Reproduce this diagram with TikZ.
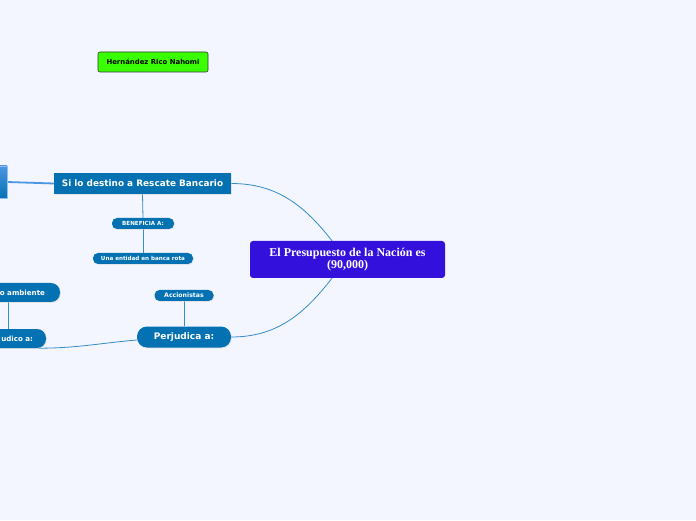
\documentclass[tikz,border=0pt]{standalone}
\usepackage{fontspec}
\setmainfont{Liberation Serif}
\setsansfont{DejaVu Sans}
\usetikzlibrary{shadows}

\definecolor{pagebg}{RGB}{243,246,254}
\definecolor{topicblue}{RGB}{4,114,178}
\definecolor{rootviolet}{RGB}{52,16,220}
\definecolor{namegreen}{RGB}{58,255,0}
\definecolor{linkblue}{RGB}{52,140,200}
\definecolor{sideblue}{RGB}{74,150,226}

\pgfdeclarelayer{back}
\pgfdeclarelayer{links}
\pgfsetlayers{back,links,main}

\begin{document}
\begin{tikzpicture}[
    x=1pt, y=1pt,
    topic/.style={
        rectangle, fill=topicblue, text=white, inner sep=0pt,
        font=\sffamily\bfseries\fontsize{8.9}{10}\selectfont,
        drop shadow={shadow xshift=0.8pt, shadow yshift=-0.8pt, fill=gray!35}
    },
    pill/.style={
        topic, rounded corners=5pt, minimum height=11pt,
        font=\sffamily\bfseries\fontsize{5.6}{6.5}\selectfont
    },
    bigpill/.style={
        topic, rounded corners=9pt, minimum height=19pt,
        font=\sffamily\bfseries\fontsize{7.1}{8}\selectfont
    },
    link/.style={draw=linkblue, line width=0.8pt}
]
    \useasboundingbox (0,0) rectangle (696,520);

    % nodes
    \node[rectangle, rounded corners=2pt, fill=namegreen, draw=black!80, line width=0.6pt,
          minimum width=110pt, minimum height=20pt, inner sep=0pt,
          font=\sffamily\bfseries\fontsize{6.9}{8}\selectfont] (autor) at (153,458) {Hernández Rico Nahomi};

    \node[rectangle, top color=sideblue, bottom color=topicblue, draw=sideblue!60,
          minimum width=34pt, minimum height=32pt, inner sep=0pt] (lado) at (-10,338) {};

    \node[topic, minimum width=177pt, minimum height=21pt] (rescate) at (142.5,336.5) {Si lo destino a Rescate Bancario};
    \node[pill, minimum width=62pt] (beneficia) at (143,296.5) {BENEFICIA A:};
    \node[pill, minimum width=100pt] (entidad) at (143,261.5) {Una entidad en banca rota};

    \node[rectangle, rounded corners=3pt, fill=rootviolet, text=white, inner sep=0pt,
          minimum width=195pt, minimum height=37pt, align=center,
          font=\bfseries\fontsize{12}{12.5}\selectfont] (presupuesto) at (347.5,260.5)
          {El Presupuesto de la Nación es\\(90,000)};

    \node[pill, minimum width=59pt, font=\sffamily\bfseries\fontsize{6.2}{7}\selectfont] (accionistas) at (184,224.5) {Accionistas};
    \node[bigpill, minimum width=94pt, minimum height=21pt, rounded corners=10pt,
          font=\sffamily\bfseries\fontsize{9}{10}\selectfont] (perjudica) at (184,183) {Perjudica a:};

    \node[bigpill, minimum width=104pt, text width=74pt, align=right] (ambiente) at (8,227.5) {o ambiente};
    \node[bigpill, minimum width=76pt, text width=50pt, align=right] (perjudico) at (8,181.5) {udico a:};

    % connectors
    \begin{pgfonlayer}{back}
        \fill[pagebg] (0,0) rectangle (696,520);
    \end{pgfonlayer}
    \begin{pgfonlayer}{links}
        \draw[draw=sideblue, line width=1.8pt] (lado.east) -- (rescate.west);
        \draw[link] (rescate.east) to[out=0, in=128] ([xshift=-15.5pt]presupuesto.north);
        \draw[link] (perjudica.east) to[out=0, in=232] ([xshift=-15.5pt]presupuesto.south);
        \foreach \i/\j in {rescate/beneficia, beneficia/entidad, accionistas/perjudica, ambiente/perjudico} {
            \draw[link] (\i.south) -- (\j.north);
        }
        \draw[link] ([xshift=-8pt]perjudico.south east) to[out=0, in=185] ([yshift=-3pt]perjudica.west);
    \end{pgfonlayer}
\end{tikzpicture}
\end{document}
